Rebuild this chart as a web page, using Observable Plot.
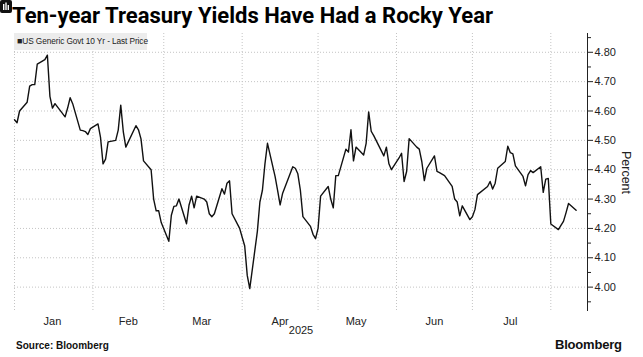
<!DOCTYPE html>
<html><head><meta charset="utf-8">
<script src="https://cdn.jsdelivr.net/npm/d3@7"></script>
<script src="https://cdn.jsdelivr.net/npm/@observablehq/plot@0.6"></script>
<style>
body{margin:0;background:#fff;}
#wrap{position:relative;width:643px;height:357px;overflow:hidden;font-family:"Liberation Sans",Arial,sans-serif;background:#fff;}
#wrap svg{position:absolute;left:0;top:0;}
#title{position:absolute;left:12px;top:3px;font-family:Roboto,"Liberation Sans",sans-serif;font-size:22px;font-weight:700;color:#000;white-space:nowrap;}
#legend{position:absolute;left:14px;top:33px;height:17px;width:133px;background:#ececec;font-size:8.3px;line-height:17px;color:#222;padding-left:3px;box-sizing:border-box;white-space:nowrap;letter-spacing:-0.1px;}
#source{position:absolute;left:16px;top:340px;font-size:10px;font-weight:700;color:#111;}
#logo{position:absolute;left:555px;top:337px;font-size:13px;font-weight:700;color:#111;white-space:nowrap;letter-spacing:-0.2px;}
#icon{position:absolute;left:619px;top:339px;}
</style></head>
<body>
<div id="wrap">
  <div id="chart"></div>
  <div id="title"></div>
  <div id="legend"></div>
  <div id="source"></div>
  <div id="logo"></div>
  <svg id="icon" width="12" height="13" viewBox="0 0 12 13"><rect x="0" y="0" width="12" height="13" rx="2" fill="#111"/><rect x="3" y="4" width="1.4" height="6" fill="#fff"/><rect x="5.3" y="2.5" width="1.4" height="7.5" fill="#fff"/><rect x="7.6" y="5" width="1.4" height="5" fill="#fff"/></svg>
</div>
<script>
const titleText = "Ten-year Treasury Yields Have Had a Rocky Year";
const seriesName = "US Generic Govt 10 Yr - Last Price";
const sourceText = "Source: Bloomberg";
const yAxisLabel = "Percent";
const yearLabel = "2025";
const monthLabels = ["Jan","Feb","Mar","Apr","May","Jun","Jul","Aug"];
const yTicks = [4.00,4.10,4.20,4.30,4.40,4.50,4.60,4.70,4.80];
const yMinorTicks = [3.95,4.05,4.15,4.25,4.35,4.45,4.55,4.65,4.75,4.85];

const dates = [
"2025-01-01","2025-01-02","2025-01-03","2025-01-06","2025-01-07","2025-01-08","2025-01-09","2025-01-10",
"2025-01-13","2025-01-14","2025-01-15","2025-01-16","2025-01-17","2025-01-21","2025-01-22","2025-01-23",
"2025-01-24","2025-01-27","2025-01-28","2025-01-29","2025-01-30","2025-01-31",
"2025-02-03","2025-02-04","2025-02-05","2025-02-06","2025-02-07","2025-02-10","2025-02-11","2025-02-12",
"2025-02-13","2025-02-14","2025-02-18","2025-02-19","2025-02-20","2025-02-21","2025-02-24","2025-02-25",
"2025-02-26","2025-02-27","2025-02-28",
"2025-03-03","2025-03-04","2025-03-05","2025-03-06","2025-03-07","2025-03-10","2025-03-11","2025-03-12",
"2025-03-13","2025-03-14","2025-03-17","2025-03-18","2025-03-19","2025-03-20","2025-03-21","2025-03-24",
"2025-03-25","2025-03-26","2025-03-27","2025-03-28","2025-03-31",
"2025-04-01","2025-04-02","2025-04-03","2025-04-04","2025-04-07","2025-04-08","2025-04-09","2025-04-10",
"2025-04-11","2025-04-14","2025-04-15","2025-04-16","2025-04-17","2025-04-21","2025-04-22","2025-04-23",
"2025-04-24","2025-04-25","2025-04-28","2025-04-29","2025-04-30",
"2025-05-01","2025-05-02","2025-05-05","2025-05-06","2025-05-07","2025-05-08","2025-05-09","2025-05-12",
"2025-05-13","2025-05-14","2025-05-15","2025-05-16","2025-05-19","2025-05-20","2025-05-21","2025-05-22",
"2025-05-23","2025-05-27","2025-05-28","2025-05-29","2025-05-30",
"2025-06-02","2025-06-03","2025-06-04","2025-06-05","2025-06-06","2025-06-09","2025-06-10","2025-06-11",
"2025-06-12","2025-06-13","2025-06-16","2025-06-17","2025-06-18","2025-06-20","2025-06-23","2025-06-24",
"2025-06-25","2025-06-26","2025-06-27","2025-06-30",
"2025-07-01","2025-07-02","2025-07-03","2025-07-07","2025-07-08","2025-07-09","2025-07-10","2025-07-11",
"2025-07-14","2025-07-15","2025-07-16","2025-07-17","2025-07-18","2025-07-21","2025-07-22","2025-07-23",
"2025-07-24","2025-07-25","2025-07-28","2025-07-29","2025-07-30","2025-07-31",
"2025-08-01","2025-08-04","2025-08-05","2025-08-06","2025-08-07","2025-08-08","2025-08-11"
];
const yields = [
4.57,4.56,4.60,4.63,4.685,4.69,4.69,4.76,
4.775,4.79,4.65,4.61,4.625,4.58,4.61,4.645,
4.625,4.535,4.533,4.53,4.52,4.54,
4.556,4.51,4.42,4.436,4.495,4.50,4.535,4.62,
4.53,4.477,4.55,4.536,4.505,4.43,4.40,4.30,
4.26,4.26,4.22,
4.156,4.245,4.275,4.277,4.30,4.216,4.28,4.31,
4.27,4.31,4.30,4.29,4.25,4.24,4.25,4.335,
4.317,4.354,4.362,4.25,4.20,
4.17,4.14,4.04,3.995,4.19,4.29,4.33,4.42,
4.49,4.377,4.33,4.28,4.32,4.41,4.405,4.386,
4.33,4.24,4.207,4.18,4.165,
4.20,4.31,4.343,4.30,4.27,4.38,4.38,4.47,
4.46,4.536,4.43,4.477,4.45,4.49,4.597,4.531,
4.516,4.447,4.477,4.42,4.40,
4.44,4.456,4.36,4.394,4.506,4.477,4.47,4.428,
4.363,4.405,4.447,4.394,4.39,4.38,4.343,4.30,
4.29,4.243,4.277,4.23,
4.24,4.264,4.315,4.343,4.36,4.334,4.354,4.405,
4.428,4.48,4.458,4.454,4.413,4.377,4.345,4.383,
4.397,4.39,4.41,4.323,4.368,4.37,
4.215,4.196,4.21,4.224,4.253,4.285,4.262
];

const monthStarts = ["2025-01-01","2025-02-01","2025-03-01","2025-04-01","2025-05-01","2025-06-01","2025-07-01","2025-08-01"].map(s => new Date(s+"T00:00:00Z"));
const monthMids = ["2025-01-16","2025-02-15","2025-03-16","2025-04-16","2025-05-16","2025-06-16","2025-07-16"].map(s => new Date(s+"T00:00:00Z"));
const xStart = new Date("2025-01-01T00:00:00Z");
const xEnd = new Date("2025-08-15T12:00:00Z");

const data = dates.map((d, i) => ({date: new Date(d + "T00:00:00Z"), value: yields[i]}));

document.getElementById("title").textContent = titleText;
document.getElementById("legend").innerHTML = "<span style='font-size:9px'>&#9632;</span>" + seriesName;
document.getElementById("source").textContent = sourceText;
document.getElementById("logo").textContent = "Bloomberg";

const gridStyle = {stroke: "#c4c4c4", strokeOpacity: 1, strokeDasharray: "1,2", strokeWidth: 1};

const chart = Plot.plot({
  width: 643,
  height: 357,
  marginLeft: 14,
  marginRight: 56,
  marginTop: 33,
  marginBottom: 46,
  x: {type: "utc", domain: [xStart, xEnd]},
  y: {domain: [3.917, 4.864]},
  style: {fontFamily: "'Liberation Sans', Arial, sans-serif", fontSize: "11px", color: "#222", background: "transparent"},
  marks: [
    Plot.gridY(yTicks, gridStyle),
    Plot.gridX(monthStarts, gridStyle),
    Plot.axisY(yMinorTicks, {anchor: "right", tickSize: 3, tickFormat: () => "", label: null, stroke: "#222"}),
    Plot.axisY(yTicks, {anchor: "right", tickSize: 5, tickPadding: 2, tickFormat: d => d.toFixed(2), label: null, stroke: "#222", fontSize: 11}),
    Plot.ruleX([xEnd], {stroke: "#222", strokeWidth: 1}),
    Plot.axisX(monthMids, {anchor: "bottom", tickSize: 0, tickPadding: 6, tickFormat: d => monthLabels[d.getUTCMonth()], label: null, fontSize: 11}),
    Plot.line(data, {x: "date", y: "value", stroke: "#111", strokeWidth: 1.4}),
    Plot.text([yearLabel], {frameAnchor: "bottom", dy: 22, text: d => d, fontSize: 11, fill: "#222"}),
    Plot.text([yAxisLabel], {frameAnchor: "right", dx: 38, rotate: 90, textAnchor: "middle", text: d => d, fontSize: 12.5, fill: "#222"})
  ]
});
document.getElementById("chart").appendChild(chart);
</script>
</body></html>
